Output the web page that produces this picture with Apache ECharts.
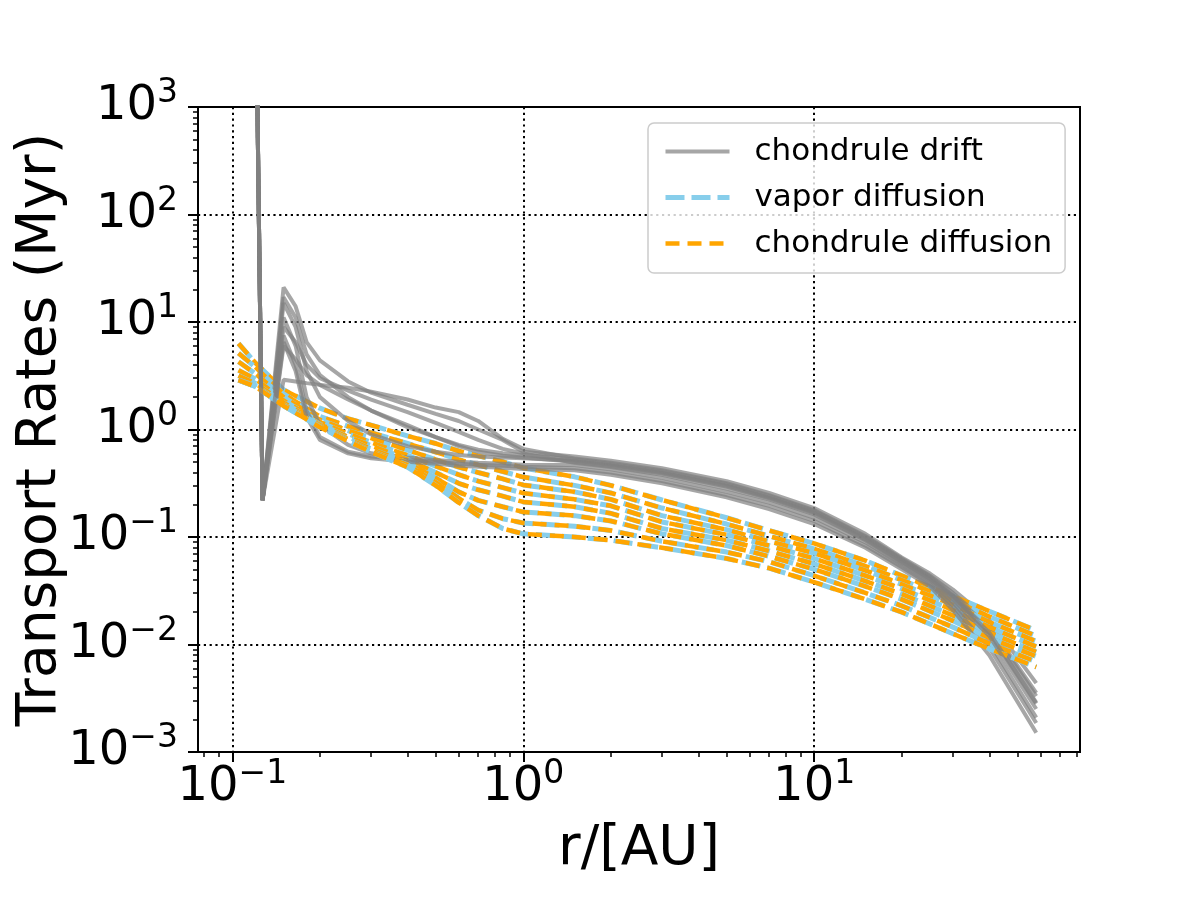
<!DOCTYPE html>
<html>
<head>
<meta charset="utf-8">
<script src="https://cdn.jsdelivr.net/npm/echarts@6/dist/echarts.min.js"></script>
<style>
  html, body { margin: 0; padding: 0; background: #fff; }
  #chart { width: 1200px; height: 900px; }
</style>
</head>
<body>
<div id="chart"></div>
<script>
/* Transport rates vs radius: drift (gray) and diffusion (blue / orange) timescales. */

const FONT = 'DejaVu Sans';

// ---------- Data ----------

// radial grid of the drift curves (AU)
const rDrift = [0.12, 0.127, 0.15, 0.165, 0.18, 0.2, 0.25, 0.3, 0.4, 0.5, 0.6, 0.7, 0.85, 1,
  1.5, 2, 3, 5, 7, 10, 15, 20, 25, 30, 40, 58];

// chondrule drift timescales (Myr), one array per snapshot
const drift1 = [3e4, 0.22, 21, 14, 6.5, 4.4, 2.8, 2.2, 1.7, 1.4, 1.2, 1.0, 0.8, 0.62,
  0.562, 0.513, 0.437, 0.331, 0.257, 0.186, 0.107, 0.0646, 0.0457, 0.0324, 0.0170, 0.00437];
const drift2 = [3e4, 0.22, 2.9, 2.8, 2.7, 2.6, 2.45, 2.25, 1.9, 1.6, 1.45, 1.2, 0.82, 0.66,
  0.537, 0.490, 0.417, 0.316, 0.245, 0.178, 0.102, 0.0631, 0.0437, 0.0302, 0.0151, 0.00355];
const drift3 = [3e4, 0.22, 17, 11, 5.0, 3.2, 2.0, 1.5, 1.05, 0.85, 0.72, 0.65, 0.6, 0.58,
  0.525, 0.479, 0.407, 0.309, 0.240, 0.174, 0.100, 0.0617, 0.0427, 0.0288, 0.0145, 0.00331];
const drift4 = [3e4, 0.22, 15, 9, 3.5, 2.0, 1.2, 0.9, 0.7, 0.62, 0.58, 0.56, 0.55, 0.54,
  0.513, 0.468, 0.398, 0.302, 0.234, 0.170, 0.0977, 0.0603, 0.0417, 0.0282, 0.0135, 0.00288];
const drift5 = [3e4, 0.22, 11, 6, 2.0, 1.1, 0.72, 0.6, 0.55, 0.52, 0.5, 0.49, 0.48, 0.47,
  0.468, 0.427, 0.355, 0.263, 0.209, 0.151, 0.0891, 0.0550, 0.0380, 0.0245, 0.0105, 0.00209];
const drift6 = [3e4, 0.22, 7.5, 4, 1.5, 0.85, 0.62, 0.56, 0.52, 0.5, 0.48, 0.47, 0.46, 0.45,
  0.437, 0.398, 0.331, 0.245, 0.195, 0.141, 0.0832, 0.0525, 0.0363, 0.0229, 0.00933, 0.00186];
const drift7 = [3e4, 0.22, 6.5, 3.5, 1.3, 0.8, 0.6, 0.54, 0.5, 0.48, 0.46, 0.45, 0.44, 0.43,
  0.417, 0.380, 0.316, 0.234, 0.182, 0.132, 0.0794, 0.0501, 0.0347, 0.0209, 0.00794, 0.00151];
const drift8 = [3e4, 0.22, 6.0, 4.5, 3.2, 2.6, 1.9, 1.5, 1.1, 0.85, 0.7, 0.62, 0.57, 0.55,
  0.501, 0.457, 0.389, 0.295, 0.229, 0.166, 0.0955, 0.0589, 0.0407, 0.0275, 0.0129, 0.00282];
const drift9 = [3e4, 0.22, 9.0, 6.5, 4.0, 3.0, 2.3, 1.9, 1.45, 1.15, 0.95, 0.8, 0.66, 0.6,
  0.490, 0.447, 0.380, 0.282, 0.224, 0.162, 0.0933, 0.0575, 0.0398, 0.0263, 0.0120, 0.00251];

// radial grid of the diffusion curves (AU)
const rDiff = [0.105, 0.12, 0.15, 0.2, 0.25, 0.3, 0.4, 0.5, 0.6, 0.7, 0.85, 1,
  1.5, 2, 3, 5, 7, 10, 15, 20, 30, 40, 58];

// vapor diffusion timescales (Myr); chondrule diffusion sits on top of them
const diff1 = [6.31, 4.17, 2.34, 1.58, 1.26, 1.10, 0.871, 0.741, 0.631, 0.569, 0.501, 0.439,
  0.363, 0.302, 0.221, 0.151, 0.115, 0.0871, 0.0603, 0.0437, 0.0282, 0.0204, 0.0135];
const diff2 = [5.13, 3.80, 2.14, 1.32, 1.07, 0.933, 0.741, 0.617, 0.525, 0.468, 0.407, 0.361,
  0.302, 0.257, 0.186, 0.132, 0.102, 0.0776, 0.0537, 0.0398, 0.0257, 0.0182, 0.0120];
const diff3 = [4.27, 3.31, 2.00, 1.23, 0.977, 0.832, 0.646, 0.525, 0.447, 0.398, 0.347, 0.305,
  0.263, 0.224, 0.158, 0.117, 0.0912, 0.0708, 0.0490, 0.0363, 0.0234, 0.0162, 0.0107];
const diff4 = [3.55, 2.95, 1.86, 1.17, 0.912, 0.759, 0.575, 0.457, 0.380, 0.331, 0.288, 0.256,
  0.224, 0.195, 0.138, 0.105, 0.0832, 0.0631, 0.0437, 0.0331, 0.0209, 0.0145, 0.00955];
const diff5 = [3.16, 2.69, 1.78, 1.12, 0.851, 0.708, 0.525, 0.398, 0.316, 0.275, 0.240, 0.212,
  0.191, 0.166, 0.120, 0.0933, 0.0741, 0.0562, 0.0389, 0.0295, 0.0186, 0.0129, 0.00851];
const diff6 = [2.88, 2.57, 1.70, 1.10, 0.813, 0.661, 0.490, 0.355, 0.263, 0.219, 0.191, 0.171,
  0.158, 0.141, 0.107, 0.0832, 0.0661, 0.0501, 0.0347, 0.0263, 0.0166, 0.0115, 0.00776];
const diff7 = [2.88, 2.51, 1.66, 1.07, 0.794, 0.631, 0.468, 0.324, 0.229, 0.178, 0.148, 0.135,
  0.126, 0.115, 0.0912, 0.0724, 0.0589, 0.0437, 0.0302, 0.0229, 0.0145, 0.0102, 0.00692];
const diff8 = [2.88, 2.51, 1.66, 1.05, 0.776, 0.617, 0.447, 0.302, 0.209, 0.158, 0.120, 0.107,
  0.100, 0.0933, 0.0794, 0.0631, 0.0513, 0.0380, 0.0263, 0.0200, 0.0126, 0.00912, 0.00617];

const driftSets = [drift1, drift2, drift3, drift4, drift5, drift6, drift7, drift8, drift9];
const diffSets = [diff1, diff2, diff3, diff4, diff5, diff6, diff7, diff8];

// ticks
const xMajor = [0.1, 1, 10];
const xMinor = [0.08, 0.09, 0.2, 0.3, 0.4, 0.5, 0.6, 0.7, 0.8, 0.9,
  2, 3, 4, 5, 6, 7, 8, 9, 20, 30, 40, 50, 60, 70, 80];
const yMajor = [1e-3, 1e-2, 1e-1, 1, 10, 100, 1000];
const yMinor = [2e-3, 3e-3, 4e-3, 5e-3, 6e-3, 7e-3, 8e-3, 9e-3,
  2e-2, 3e-2, 4e-2, 5e-2, 6e-2, 7e-2, 8e-2, 9e-2,
  0.2, 0.3, 0.4, 0.5, 0.6, 0.7, 0.8, 0.9,
  2, 3, 4, 5, 6, 7, 8, 9, 20, 30, 40, 50, 60, 70, 80, 90,
  200, 300, 400, 500, 600, 700, 800, 900];

// ---------- Styles ----------

const GRAY = 'rgba(128,128,128,0.7)';
const SKY = '#87CEEB';
const ORANGE = '#FFA500';

const driftLine = { color: GRAY, width: 4 };
const vaporLine = { color: SKY, width: 5, type: [19, 7] };
const chondLine = { color: ORANGE, width: 4.5, type: [14, 8] };

function sci(v) {
  const e = Math.round(Math.log10(v));
  return '{b|10}{e|' + (e < 0 ? '\u2212' + (-e) : e) + '}';
}

const tickRich = {
  b: { fontFamily: FONT, fontSize: 48, lineHeight: 60, color: '#000' },
  e: { fontFamily: FONT, fontSize: 33, verticalAlign: 'top', color: '#000' },
};

const pairs = (xs, ys) => xs.map((x, i) => [x, ys[i]]);

const series = [];
driftSets.forEach((ys, i) => {
  series.push({
    name: 'chondrule drift', type: 'line', data: pairs(rDrift, ys),
    symbol: 'none', lineStyle: driftLine, itemStyle: { color: GRAY },
  });
  if (i < diffSets.length) {
    series.push({
      name: 'vapor diffusion', type: 'line', data: pairs(rDiff, diffSets[i]),
      symbol: 'none', lineStyle: vaporLine, itemStyle: { color: SKY },
    });
    series.push({
      name: 'chondrule diffusion', type: 'line', data: pairs(rDiff, diffSets[i]),
      symbol: 'none', lineStyle: chondLine, itemStyle: { color: ORANGE },
    });
  }
});

const minorAxis = (values) => ({
  show: true,
  axisLine: { show: false },
  axisTick: { show: true, inside: false, length: 5, customValues: values, lineStyle: { color: '#000', width: 1.5 } },
  axisLabel: { show: false },
  splitLine: { show: false },
});

const hiddenSymbol = { color: 'rgba(0,0,0,0)', borderWidth: 0, opacity: 0 };

const option = {
  animation: false,
  backgroundColor: '#fff',
  textStyle: { fontFamily: FONT },
  grid: {
    left: 198, right: 120, top: 107, bottom: 148,
    outerBoundsMode: 'none', containLabel: false,
    show: true, borderColor: '#000', borderWidth: 2, backgroundColor: 'transparent',
  },
  legend: {
    data: [
      { name: 'chondrule drift', itemStyle: hiddenSymbol, lineStyle: driftLine },
      { name: 'vapor diffusion', itemStyle: hiddenSymbol, lineStyle: vaporLine },
      { name: 'chondrule diffusion', itemStyle: hiddenSymbol, lineStyle: chondLine },
    ],
    orient: 'vertical', left: 648, top: 123,
    padding: [13, 13, 14, 15],
    itemWidth: 64, itemHeight: 30, itemGap: 15,
    selectedMode: false,
    backgroundColor: 'rgba(255,255,255,0.8)',
    borderColor: '#cccccc', borderWidth: 1.5, borderRadius: 6,
    textStyle: { fontFamily: FONT, fontSize: 31, lineHeight: 30, color: '#000', padding: [0, 0, 0, 20] },
  },
  xAxis: [
    {
      type: 'log', logBase: 10, min: 0.0762, max: 82, position: 'bottom',
      name: 'r/[AU]', nameLocation: 'middle', nameGap: 70, nameMoveOverlap: false,
      nameTextStyle: { fontFamily: FONT, fontSize: 55, color: '#000' },
      axisLine: { show: true, onZero: false, lineStyle: { color: '#000', width: 2 } },
      axisTick: { show: true, inside: false, length: 10, customValues: xMajor, lineStyle: { color: '#000', width: 2 } },
      axisLabel: { customValues: xMajor, formatter: sci, margin: 6, rich: tickRich },
      splitLine: { show: true, lineStyle: { color: '#000', width: 2, type: [2.2, 3.6] } },
    },
    Object.assign({ type: 'log', logBase: 10, min: 0.0762, max: 82, position: 'bottom', offset: 0 }, minorAxis(xMinor)),
  ],
  yAxis: [
    {
      type: 'log', logBase: 10, min: 1e-3, max: 1e3, position: 'left',
      name: 'Transport Rates (Myr)', nameLocation: 'middle', nameGap: 130, nameRotate: 90,
      nameMoveOverlap: false,
      nameTextStyle: { fontFamily: FONT, fontSize: 55, color: '#000' },
      axisLine: { show: true, onZero: false, lineStyle: { color: '#000', width: 2 } },
      axisTick: { show: true, inside: false, length: 10, customValues: yMajor, lineStyle: { color: '#000', width: 2 } },
      axisLabel: { customValues: yMajor, formatter: sci, margin: 20, rich: tickRich },
      splitLine: { show: true, lineStyle: { color: '#000', width: 2, type: [2.2, 3.6] } },
    },
    Object.assign({ type: 'log', logBase: 10, min: 1e-3, max: 1e3, position: 'left', offset: 0 }, minorAxis(yMinor)),
  ],
  series,
};

const chart = echarts.init(document.getElementById('chart'), null, { renderer: 'canvas' });
chart.setOption(option);
</script>
</body>
</html>
